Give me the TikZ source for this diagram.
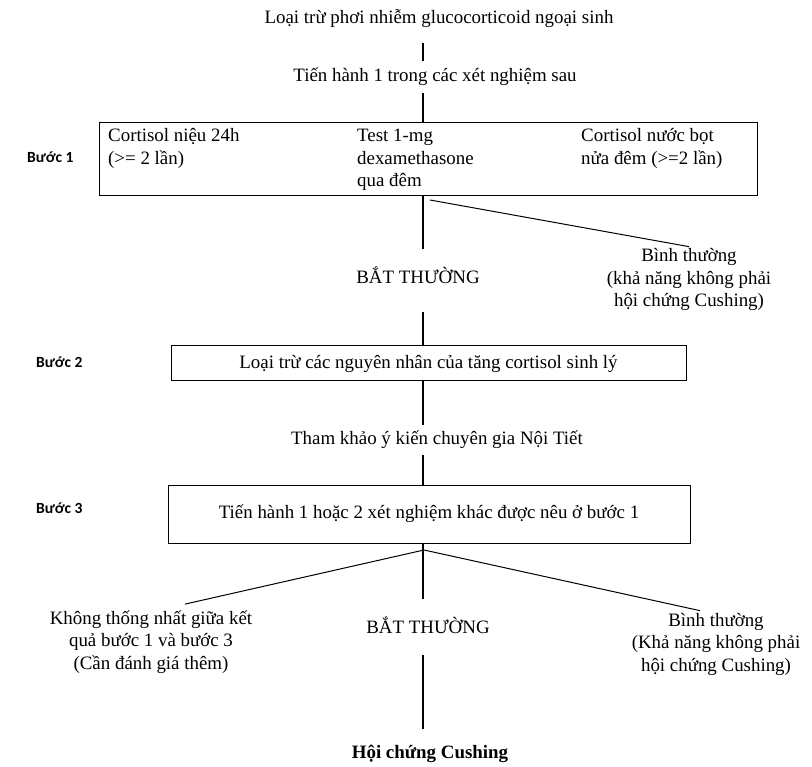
\documentclass[tikz,border=0pt]{standalone}
\usepackage{fontspec}
\setmainfont{Liberation Serif}
\newfontfamily\stepfont{Carlito}
\usetikzlibrary{positioning}

\begin{document}
\begin{tikzpicture}[x=1pt,y=-1pt,
    txt/.style={inner sep=0pt,font=\fontsize{18.9}{22.5}\selectfont},
    box/.style={draw,line width=1pt,inner sep=0pt,font=\fontsize{18.9}{22.5}\selectfont},
    steplbl/.style={inner sep=0pt,anchor=base west,font=\stepfont\bfseries\fontsize{15.5}{18}\selectfont},
    link/.style={line width=1.4pt}]
  \useasboundingbox (0,0) rectangle (812,767);
  \coordinate (spine) at (423,0);
  % step 1 (multi-line nodes sit on their last baseline)
  \node[txt,anchor=base] (excl) at (439,24) {Loại trừ phơi nhiễm glucocorticoid ngoại sinh};
  \node[txt,anchor=base] (pick) at (435,82) {Tiến hành 1 trong các xét nghiệm sau};
  \node[box,minimum width=658pt,minimum height=73pt] (box1) at (428,159.5) {};
  \node[txt,anchor=base west,align=left] (ufc) at (108,164.5) {Cortisol niệu 24h\\(>= 2 lần)};
  \node[txt,anchor=base west,align=left] (dst) at (357,187) {Test 1-mg\\dexamethasone\\qua đêm};
  \node[txt,anchor=base west,align=left] (lnsc) at (581,164.5) {Cortisol nước bọt\\nửa đêm (>=2 lần)};
  \node[steplbl] (s1) at (27,163) {Bước 1};
  \node[txt,anchor=base] (abn1) at (418,284) {BẮT THƯỜNG};
  \node[txt,anchor=base,align=center] (norm1) at (689,307) {Bình thường\\(khả năng không phải\\hội chứng Cushing)};
  \coordinate (fork1) at (430,200);
  % step 2
  \node[box,minimum width=515pt,minimum height=35pt] (box2) at (428.5,363.5) {Loại trừ các nguyên nhân của tăng cortisol sinh lý};
  \node[steplbl] (s2) at (36,368) {Bước 2};
  \node[txt,anchor=base] (consult) at (437,445) {Tham khảo ý kiến chuyên gia Nội Tiết};
  % step 3
  \node[box,minimum width=522pt,minimum height=58pt] (box3) at (429,514) {Tiến hành 1 hoặc 2 xét nghiệm khác được nêu ở bước 1};
  \node[steplbl] (s3) at (36,513) {Bước 3};
  \node[txt,anchor=base,align=center] (mismatch) at (151,669) {Không thống nhất giữa kết\\quả bước 1 và bước 3\\(Cần đánh giá thêm)};
  \node[txt,anchor=base] (abn2) at (428,633) {BẮT THƯỜNG};
  \node[txt,anchor=base,align=center] (norm2) at (716,671) {Bình thường\\(Khả năng không phải\\hội chứng Cushing)};
  \node[txt,anchor=base,font=\fontsize{18.9}{22.5}\selectfont\bfseries] (cush) at (430,758) {Hội chứng Cushing};
  \coordinate (fork2) at (424,550);
  % connectors
  \draw[link,shorten <=15pt,shorten >=7pt] (excl.south -| spine) -- (pick.north -| spine);
  \draw[link,shorten <=7pt] (pick.south -| spine) -- (box1.north -| spine);
  \draw[link,shorten >=18pt] (box1.south -| spine) -- (abn1.north -| spine);
  \draw[link,line width=1pt] (fork1) -- ([yshift=2pt]norm1.north);
  \draw[link,shorten <=28pt] (abn1.south -| spine) -- (box2.north -| spine);
  \draw[link,shorten >=6pt] (box2.south -| spine) -- (consult.north -| spine);
  \draw[link,shorten <=6pt] (consult.south -| spine) -- (box3.north -| spine);
  \draw[link,shorten >=17pt] (box3.south -| spine) -- (abn2.north -| spine);
  \draw[link,line width=1pt] (fork2) -- ([xshift=34pt,yshift=6pt]mismatch.north);
  \draw[link,line width=1pt] (fork2) -- ([xshift=-16pt,yshift=2pt]norm2.north);
  \draw[link,shorten <=22pt,shorten >=15pt] (abn2.south -| spine) -- (cush.north -| spine);
\end{tikzpicture}
\end{document}
